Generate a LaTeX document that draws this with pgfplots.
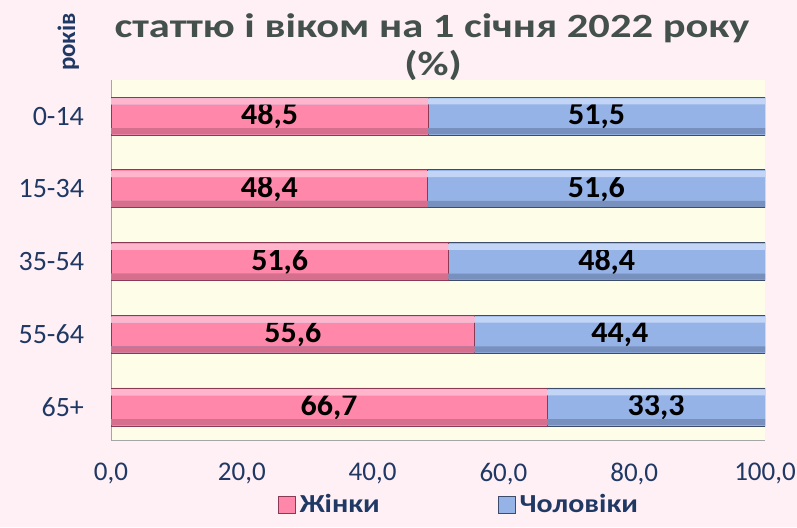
\documentclass[border=0pt]{standalone}
\usepackage{pgfplots}
\usepackage{pgfplotstable}
\pgfplotsset{compat=1.18}
\usepackage{fontspec}
\setmainfont{Carlito}
\newfontfamily\titlefont[FakeStretch=1.25]{Carlito}
\newfontfamily\legfont[FakeStretch=1.15]{Carlito}
\definecolor{pagebg}{HTML}{FFF0F5}
\definecolor{plotbg}{HTML}{FEFDE8}
\definecolor{navy}{HTML}{1F3864}
\definecolor{titlec}{HTML}{43504C}
\definecolor{pinkM}{HTML}{FF88AA}
\definecolor{pinkL}{HTML}{FFB6CD}
\definecolor{pinkD}{HTML}{D66E8E}
\definecolor{pinkE}{HTML}{8A3A55}
\definecolor{blueM}{HTML}{95B3E7}
\definecolor{blueL}{HTML}{C2D5F6}
\definecolor{blueD}{HTML}{7890BE}
\definecolor{blueE}{HTML}{3E4C6C}
\pgfplotstableread{
pos w m tot
0 66.7 33.3 100
1 55.6 44.4 100
2 51.6 48.4 100
3 48.4 51.6 100
4 48.5 51.5 100
}\data
\pgfplotsset{
  common/.style={
    at={(55.5pt,43.5pt)}, anchor=south west,
    scale only axis, width=327pt, height=180pt,
    xmin=0, xmax=100, ymin=-0.454, ymax=4.495,
  }
}
\begin{document}
\begin{tikzpicture}
\useasboundingbox (0,0) rectangle (398.5pt,263.5pt);
\fill[pagebg] (0,0) rectangle (398.5pt,263.5pt);
\node[font=\titlefont\fontsize{17}{19}\selectfont\bfseries, text=titlec, anchor=base] at (216pt,245pt) {статтю і віком на 1 січня 2022 року};
\node[font=\titlefont\fontsize{17}{19}\selectfont\bfseries, text=titlec, anchor=base] at (216.5pt,226pt) {(\%)};
\node[font=\fontsize{12.5}{14}\selectfont\bfseries, text=navy, rotate=90, anchor=base west] at (37.5pt,224.5pt) {років};
\begin{axis}[
  common,
  xbar stacked, bar width=19pt,
  xtick={0,20,...,100}, ytick={0,...,4},
  yticklabels={65+,55-64,35-54,15-34,0-14},
  axis x line*=bottom, axis y line*=left,
  axis line style={draw=gray!70, -},
  major tick length=0pt,
  axis background/.style={fill=plotbg},
  /pgf/number format/fixed,
  /pgf/number format/fixed zerofill,
  /pgf/number format/precision=1,
  /pgf/number format/use comma,
  /pgf/number format/assume math mode=true,
  xticklabel style={font=\fontsize{13.5}{15}\selectfont, text=navy, yshift=-8pt},
  yticklabel style={font=\fontsize{14}{16}\selectfont, text=navy, xshift=-10pt},
  point meta=explicit,
  nodes near coords,
  every node near coord/.append style={font=\fontsize{16}{18}\selectfont\bfseries, text=black, anchor=center},
  legend style={at={(0.5336,-0.181)}, anchor=center, draw=none, fill=none,
    font=\legfont\fontsize{13}{15}\selectfont\bfseries, text=navy,
    /tikz/every even column/.append style={column sep=57pt}},
  legend columns=2,
  legend image code/.code={\draw[#1] (0pt,-4.25pt) rectangle (8.5pt,4.25pt);},
]
\addplot[draw=pinkE, line width=0.4pt, fill=pinkM] table[x=w, y=pos, meta=w] {\data};
\addplot[draw=blueE, line width=0.4pt, fill=blueM] table[x=m, y=pos, meta=m] {\data};
\legend{Жінки,Чоловіки}
\end{axis}
\begin{axis}[common, hide axis, xbar, bar width=3pt]
\addplot[draw=none, fill=blueL, bar shift=7.3pt] table[x=tot, y=pos] {\data};
\addplot[draw=none, fill=pinkL, bar shift=7.3pt] table[x=w, y=pos] {\data};
\addplot[draw=none, fill=blueD, bar shift=-7.6pt] table[x=tot, y=pos] {\data};
\addplot[draw=none, fill=pinkD, bar shift=-7.6pt] table[x=w, y=pos] {\data};
\end{axis}
\end{tikzpicture}
\end{document}
